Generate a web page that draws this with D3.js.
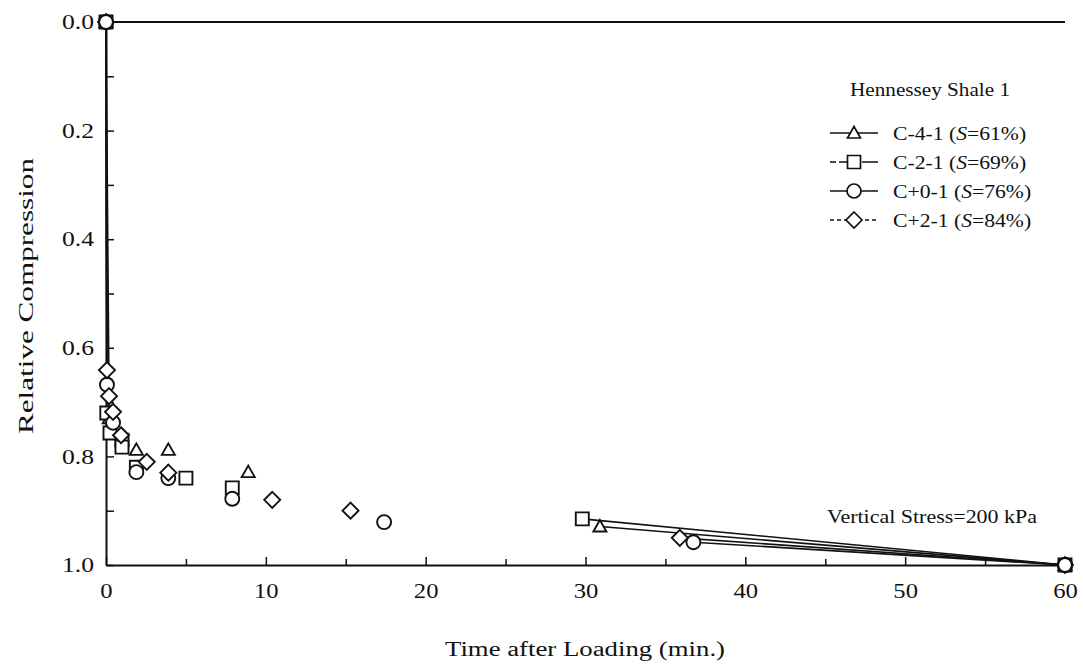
<!DOCTYPE html>
<html>
<head>
<meta charset="utf-8">
<script src="https://cdn.jsdelivr.net/npm/d3@7"></script>
<style>
  html, body { margin: 0; padding: 0; background: #fff; }
  svg { display: block; font-family: "Liberation Serif", "Times New Roman", serif; }
</style>
</head>
<body>
<svg id="chart" width="1083" height="668"></svg>
<script>
// ---- data ----
const seriesNames = ["C-4-1", "C-2-1", "C+0-1", "C+2-1"];
const seriesSat = ["61%", "69%", "76%", "84%"];
const seriesSymbols = ["triangle", "square", "circle", "diamond"];

const triTime = [0, 0.2, 1.0, 1.9, 3.9, 8.9, 30.9, 60];
const triComp = [0, 0.73, 0.77, 0.788, 0.788, 0.829, 0.929, 1.0];

const sqTime = [0, 0.05, 0.25, 1.0, 1.0, 1.9, 5.0, 7.9, 29.8, 60];
const sqComp = [0, 0.72, 0.757, 0.77, 0.783, 0.82, 0.84, 0.858, 0.915, 1.0];

const cirTime = [0, 0.06, 0.44, 1.9, 3.9, 7.9, 17.4, 36.75, 60];
const cirComp = [0, 0.668, 0.738, 0.829, 0.84, 0.878, 0.921, 0.958, 1.0];

const diaTime = [0, 0.06, 0.19, 0.44, 0.94, 2.55, 3.9, 10.4, 15.3, 35.9, 60];
const diaComp = [0, 0.641, 0.689, 0.718, 0.761, 0.81, 0.83, 0.88, 0.9, 0.95, 1.0];

const xTicks = [0, 5, 10, 15, 20, 25, 30, 35, 40, 45, 50, 55, 60];
const xTickLabels = ["0", "", "10", "", "20", "", "30", "", "40", "", "50", "", "60"];
const yTicks = [0, 0.1, 0.2, 0.3, 0.4, 0.5, 0.6, 0.7, 0.8, 0.9, 1.0];
const yTickLabels = ["0.0", "", "0.2", "", "0.4", "", "0.6", "", "0.8", "", "1.0"];

const legendTitle = "Hennessey Shale 1";
const stressNote = "Vertical Stress=200 kPa";
const xTitle = "Time after Loading (min.)";
const yTitle = "Relative Compression";

// ---- layout ----
const svg = d3.select("#chart");
const mLeft = 106, mRight = 1065, mTop = 22, mBottom = 565;
const x = d3.scaleLinear().domain([0, 60]).range([mLeft, mRight]);
const y = d3.scaleLinear().domain([0, 1]).range([mTop, mBottom]);
const ink = "#111";

const series = [
  { t: triTime, c: triComp },
  { t: sqTime, c: sqComp },
  { t: cirTime, c: cirComp },
  { t: diaTime, c: diaComp }
].map((s, i) => ({
  name: seriesNames[i], sat: seriesSat[i], sym: seriesSymbols[i],
  pts: s.t.map((tv, j) => ({ t: tv, c: s.c[j] }))
}));

function circlePath(r) { return `M${-r},0A${r},${r} 0 1,0 ${r},0A${r},${r} 0 1,0 ${-r},0Z`; }
function symbolPath(type) {
  switch (type) {
    case "triangle": return "M0,-6.5L6.5,5L-6.5,5Z";
    case "square": return "M-6.5,-6.5H6.5V6.5H-6.5Z";
    case "diamond": return "M0,-8L8,0L0,8L-8,0Z";
    default: return circlePath(7);
  }
}
// horizontally widen text (the reference face is wider than Times)
function widen(sel, factor) {
  sel.each(function () {
    const w = this.getComputedTextLength();
    if (w > 0) d3.select(this).attr("textLength", w * factor).attr("lengthAdjust", "spacingAndGlyphs");
  });
}

// ---- axes ----
const xAxis = d3.axisBottom(x).tickValues(xTicks).tickSizeInner(-7).tickSizeOuter(0)
  .tickPadding(17).tickFormat((d, i) => xTickLabels[i]);
const gx = svg.append("g").attr("transform", `translate(0,${mBottom})`).call(xAxis);
gx.select(".domain").attr("stroke-width", 2).attr("stroke", ink);
gx.selectAll(".tick line").attr("stroke-width", 1.5).attr("stroke", ink).attr("y2", (d, i) => i % 2 === 0 ? -8 : -6);
gx.selectAll(".tick text").attr("font-size", 22).attr("fill", ink)
  .attr("font-family", "'Liberation Serif', serif");
widen(gx.selectAll(".tick text"), 1.12);

const yAxis = d3.axisLeft(y).tickValues(yTicks).tickSizeInner(-8).tickSizeOuter(0)
  .tickPadding(12).tickFormat((d, i) => yTickLabels[i]);
const gy = svg.append("g").attr("transform", `translate(${mLeft},0)`).call(yAxis);
gy.select(".domain").attr("stroke-width", 2).attr("stroke", ink);
gy.selectAll(".tick line").attr("stroke-width", 1.5).attr("stroke", ink);
gy.selectAll(".tick text").attr("font-size", 21).attr("fill", ink)
  .attr("font-family", "'Liberation Serif', serif");
widen(gy.selectAll(".tick text"), 1.22);

// top frame line
svg.append("line").attr("x1", x(0)).attr("x2", x(60)).attr("y1", y(0)).attr("y2", y(0))
  .attr("stroke", ink).attr("stroke-width", 1.8);

// ---- series lines: first segment (start) and last segment (to 60 min) ----
const lineGen = d3.line().x(d => x(d.t)).y(d => y(d.c));
series.forEach(s => {
  const n = s.pts.length;
  [[s.pts[0], s.pts[1]], [s.pts[n - 2], s.pts[n - 1]]].forEach(seg => {
    svg.append("path").attr("d", lineGen(seg)).attr("fill", "none")
      .attr("stroke", ink).attr("stroke-width", 1.6);
  });
});

// ---- markers ----
series.forEach(s => {
  svg.append("g").selectAll("path").data(s.pts).join("path")
    .attr("transform", d => `translate(${x(d.t)},${y(d.c)})`)
    .attr("d", symbolPath(s.sym))
    .attr("fill", "#fff").attr("stroke", ink).attr("stroke-width", 1.9);
});
// circle series end points on top (shared start / end of all tests)
const cir = series.find(s => s.sym === "circle");
svg.append("g").selectAll("path").data([cir.pts[0], cir.pts[cir.pts.length - 1]]).join("path")
  .attr("transform", d => `translate(${x(d.t)},${y(d.c)})`)
  .attr("d", symbolPath("circle"))
  .attr("fill", "#fff").attr("stroke", ink).attr("stroke-width", 2.2);

// ---- axis titles ----
svg.append("text").attr("x", 585).attr("y", 656).attr("text-anchor", "middle")
  .attr("font-size", 20).attr("fill", ink)
  .attr("textLength", 280).attr("lengthAdjust", "spacingAndGlyphs").text(xTitle);
svg.append("text").attr("transform", "translate(33,296) rotate(-90)").attr("text-anchor", "middle")
  .attr("font-size", 20).attr("fill", ink)
  .attr("textLength", 276).attr("lengthAdjust", "spacingAndGlyphs").text(yTitle);

// ---- legend ----
svg.append("text").attr("x", 850).attr("y", 96).attr("font-size", 18).attr("fill", ink)
  .attr("textLength", 160).attr("lengthAdjust", "spacingAndGlyphs").text(legendTitle);
const legRowY = [133, 162, 191, 220];
const legDash = [null, "6,3,14,0", null, "4,3"];
series.forEach((s, i) => {
  const g = svg.append("g").attr("transform", `translate(854,${legRowY[i]})`);
  g.append("line").attr("x1", -24).attr("x2", 24).attr("y1", 0).attr("y2", 0)
    .attr("stroke", ink).attr("stroke-width", 1.5).attr("stroke-dasharray", legDash[i]);
  g.append("path").attr("d", symbolPath(s.sym))
    .attr("fill", "#fff").attr("stroke", ink).attr("stroke-width", 1.7);
  const t = svg.append("text").attr("x", 893).attr("y", legRowY[i] + 7)
    .attr("font-size", 19).attr("fill", ink);
  t.append("tspan").text(s.name + " (");
  t.append("tspan").attr("font-style", "italic").text("S");
  t.append("tspan").text("=" + s.sat + ")");
  widen(t, 1.14);
});

svg.append("text").attr("x", 827).attr("y", 523).attr("font-size", 18).attr("fill", ink)
  .attr("textLength", 210).attr("lengthAdjust", "spacingAndGlyphs").text(stressNote);
</script>
</body>
</html>
